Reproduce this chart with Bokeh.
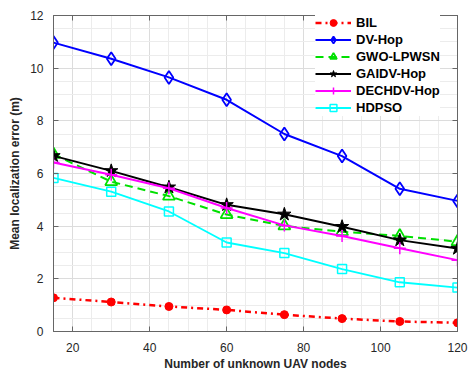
from bokeh.plotting import figure
from bokeh.models import SingleIntervalTicker, LinearAxis, Range1d, Legend, CustomJSTickFormatter
from bokeh.embed import file_html
from bokeh.resources import INLINE

x_nodes = [15, 30, 45, 60, 75, 90, 105, 120]
bil = [1.28, 1.12, 0.95, 0.82, 0.64, 0.49, 0.38, 0.33]
dv_hop = [10.97, 10.36, 9.65, 8.80, 7.50, 6.66, 5.42, 4.96]
gwo_lpwsn = [6.73, 5.69, 5.14, 4.44, 4.01, 3.79, 3.63, 3.41]
gaidv_hop = [6.67, 6.10, 5.48, 4.81, 4.45, 3.98, 3.47, 3.15]
dechdv_hop = [6.42, 5.95, 5.44, 4.69, 4.03, 3.63, 3.16, 2.71]
hdpso = [5.83, 5.31, 4.56, 3.38, 2.98, 2.37, 1.87, 1.67]

x_label = "Number of unknown UAV nodes"
y_label = "Mean localization error (m)"

p = figure(width=473, height=373, output_backend="svg", toolbar_location=None,
           x_range=Range1d(15, 120), y_range=Range1d(0, 12),
           min_border_left=53, min_border_right=16, min_border_top=15,
           min_border_bottom=39)
p.background_fill_color = "white"
p.border_fill_color = "white"
p.outline_line_color = "#666666"
p.outline_line_width = 1

xt = SingleIntervalTicker(interval=20, num_minor_ticks=4)
yt = SingleIntervalTicker(interval=2, num_minor_ticks=4)
p.xaxis.ticker = xt
p.yaxis.ticker = yt
p.xgrid.ticker = xt
p.ygrid.ticker = yt
for g in (p.xgrid, p.ygrid):
    g.grid_line_color = "#dcdcdc"
    g.minor_grid_line_color = "#ececec"

font = "Liberation Sans"
for ax in (p.xaxis, p.yaxis):
    ax.axis_line_color = "#666666"
    ax.major_tick_line_color = "#666666"
    ax.major_tick_in = 5
    ax.major_tick_out = 0
    ax.minor_tick_line_color = None
    ax.major_label_text_font = font
    ax.major_label_text_font_size = "12px"
    ax.major_label_text_color = "#262626"
    ax.axis_label_text_font = font
    ax.axis_label_text_font_size = "12px"
    ax.axis_label_text_font_style = "bold"
    ax.axis_label_text_color = "#262626"
p.xaxis.axis_label = x_label
p.yaxis.axis_label = y_label
p.xaxis.major_label_standoff = 7
p.xaxis.axis_label_standoff = 2
p.yaxis.major_label_standoff = 6
p.yaxis.axis_label_standoff = 5

for loc, tk in (("right", yt), ("above", xt)):
    ax = LinearAxis(ticker=tk, formatter=CustomJSTickFormatter(code="return ''"))
    ax.axis_line_color = "#666666"
    ax.major_tick_line_color = "#666666"
    ax.major_tick_in = 5
    ax.major_tick_out = 0
    ax.minor_tick_line_color = None
    ax.major_label_standoff = 0
    p.add_layout(ax, loc)

items = []
r1 = p.line(x_nodes, bil, line_color="red", line_width=2.5, line_dash="dashdot")
r2 = p.scatter(x_nodes, bil, marker="circle", size=8, fill_color="red", line_color="red")
items.append(("BIL", [r1, r2]))

r1 = p.line(x_nodes, dv_hop, line_color="blue", line_width=2)
r2 = p.scatter(x_nodes, dv_hop, marker="diamond", size=13,
               fill_color=None, line_color="blue", line_width=1.8)
items.append(("DV-Hop", [r1, r2]))

r1 = p.line(x_nodes, gwo_lpwsn, line_color="#00e000", line_width=2, line_dash="8 5")
r2 = p.scatter(x_nodes, gwo_lpwsn, marker="triangle", size=12, fill_color=None,
               line_color="#00e000", line_width=1.8)
items.append(("GWO-LPWSN", [r1, r2]))

r1 = p.line(x_nodes, gaidv_hop, line_color="black", line_width=2)
r2 = p.scatter(x_nodes, gaidv_hop, marker="star", size=14, fill_color="black",
               line_color="black")
items.append(("GAIDV-Hop", [r1, r2]))

r1 = p.line(x_nodes, dechdv_hop, line_color="magenta", line_width=2)
r2 = p.scatter(x_nodes, dechdv_hop, marker="cross", size=12, line_color="magenta",
               line_width=1.5)
items.append(("DECHDV-Hop", [r1, r2]))

r1 = p.line(x_nodes, hdpso, line_color="cyan", line_width=1.8)
r2 = p.scatter(x_nodes, hdpso, marker="square", size=9, fill_color=None,
               line_color="cyan", line_width=1.5)
items.append(("HDPSO", [r1, r2]))

legend = Legend(items=items, location=(262, 215))
legend.label_text_font = font
legend.label_text_font_size = "13px"
legend.label_text_font_style = "bold"
legend.label_text_color = "black"
legend.label_height = 17
legend.glyph_height = 17
legend.glyph_width = 36
legend.label_standoff = 5
legend.spacing = 0
legend.padding = 1
legend.margin = 0
legend.border_line_color = None
legend.background_fill_color = "white"
legend.background_fill_alpha = 1.0
p.add_layout(legend, "center")

open("out.html", "w").write(file_html(p, INLINE))
